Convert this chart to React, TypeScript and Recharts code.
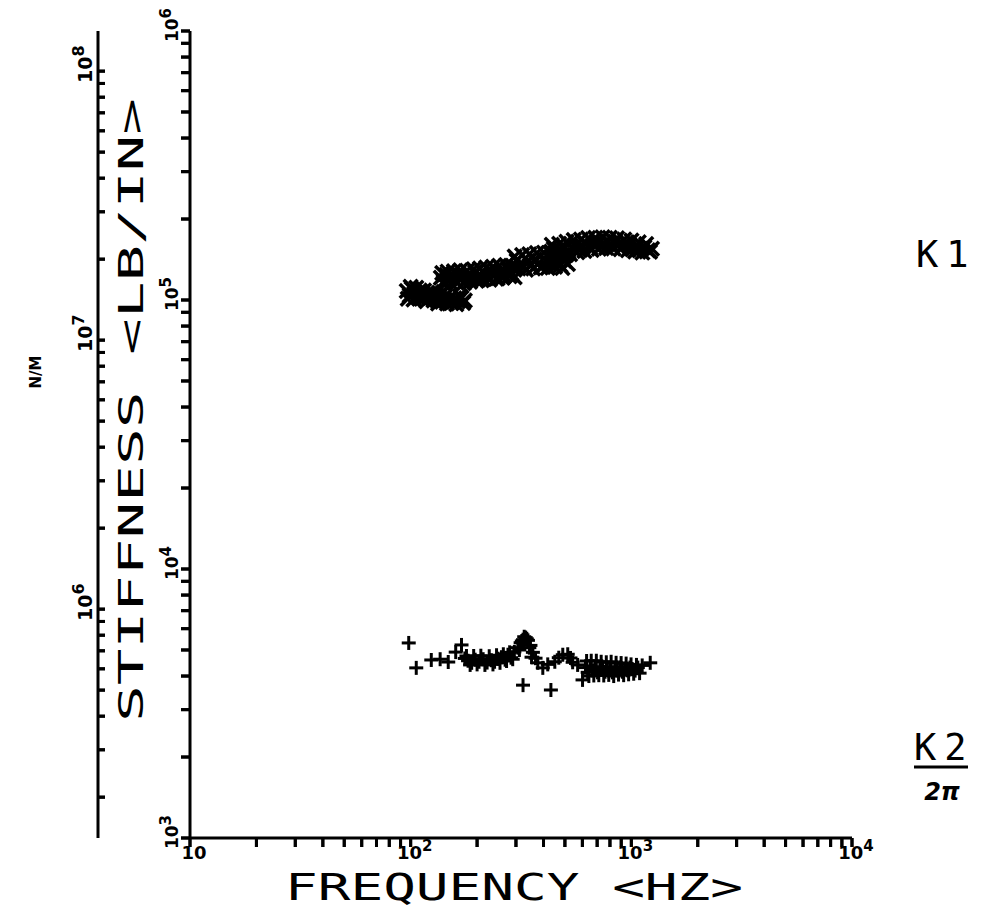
import React from 'react';
import { ScatterChart, Scatter, XAxis, YAxis } from 'recharts';

// ---- K1 : stiffness (lb/in) vs frequency (Hz)
const K1_FREQ = [
  96, 99, 101, 104, 107, 110, 113, 116, 119, 123, 127, 131, 135, 139, 143, 148, 153, 158, 164, 170, 176,
  97, 100, 103, 106, 109, 112, 115, 118, 121, 125, 129, 133, 137, 141, 146, 151, 156, 161, 167, 173,
  137, 141, 145, 150, 155, 160, 165, 171, 177, 183, 189, 196, 203, 210, 217, 224, 232, 240, 248, 257, 266, 276, 286, 296,
  139, 143, 147, 152, 157, 162, 168, 174, 180, 186, 193, 199, 206, 213, 220, 228, 236, 244, 252, 261, 271, 281, 291,
  290, 302, 314, 326, 339, 352, 366, 380, 395, 410, 426, 443, 460, 478, 497, 516,
  296, 308, 320, 333, 345, 359, 373, 388, 402, 418, 434, 451, 469, 487, 506,
  428, 445, 462, 480, 499, 518, 538, 559, 580, 602, 625, 649, 674, 700, 727, 755, 784, 814, 845, 878, 912, 947, 983, 1020, 1060, 1100, 1145, 1190, 1240,
  436, 453, 471, 489, 508, 528, 548, 569, 591, 613, 637, 661, 687, 713, 741, 769, 799, 829, 861, 895, 929, 965, 1001, 1040, 1080, 1122, 1167, 1215,
];
const K1_STIFF = [
  108000, 104000, 110000, 106000, 103500, 108500, 105000, 101500, 106500, 103000, 99500, 104000, 101000, 98500, 103000, 100000, 97500, 101500, 99000, 102000, 99500,
  101000, 112000, 100500, 111000, 102000, 101000, 108500, 99000, 104500, 107000, 101500, 97000, 104500, 101500, 97000, 102500, 99000, 96500, 103500, 97500,
  121000, 117000, 124000, 119500, 122500, 118000, 125000, 121000, 117500, 124000, 120000, 126500, 122000, 118500, 125500, 121500, 128000, 124000, 120500, 127500, 123000, 130000, 125500, 121500,
  126000, 114500, 127500, 115500, 128000, 116000, 129000, 115500, 128500, 117000, 130000, 118000, 131000, 119500, 132000, 119000, 133000, 120000, 134000, 121000, 135000, 122500, 132000,
  134000, 140000, 136000, 132500, 139500, 135000, 141500, 137000, 133000, 140500, 136500, 142000, 138000, 134500, 140000, 136000,
  145000, 131000, 147000, 129500, 148000, 131000, 149500, 132000, 150000, 131500, 151000, 133000, 150500, 131500, 147000,
  150000, 155000, 148500, 153500, 157500, 151500, 156000, 160000, 154000, 158500, 162000, 156500, 160500, 164000, 158000, 162500, 165500, 160000, 164500, 161000, 158500, 163000, 159500, 155500, 158500, 154500, 157000, 153000, 155000,
  160500, 145000, 162000, 147000, 164500, 148000, 167000, 150500, 168000, 152000, 170000, 153500, 170500, 155000, 171000, 156000, 170500, 155500, 169500, 154500, 168000, 153000, 166500, 151500, 164000, 150000, 161500, 151000,
];

// ---- K2 / 2π : stiffness (lb/in) vs frequency (Hz)
const K2_FREQ = [
  98, 106, 124, 136, 148, 160, 170, 176, 182, 189, 196, 204, 213, 222, 232, 240, 249, 258, 268, 276, 285, 295,
  179, 186, 193, 200, 208, 217, 227, 236, 245, 254, 263, 272, 281, 290,
  306, 315, 323, 332, 340, 349, 358, 368, 311, 319, 327, 336, 345, 353,
  323, 377, 397, 418, 432, 450, 469, 489, 515, 530, 542, 571, 601,
  620, 634, 650, 667, 685, 703, 720, 740, 760, 779, 800, 821, 842, 864, 887, 911, 935, 959, 985, 1010, 1040, 1070, 1120, 1218,
  627, 642, 658, 676, 694, 712, 730, 750, 770, 790, 810, 832, 853, 875, 899, 923, 947, 972, 997, 1025, 1055, 1090,
];
const K2_STIFF = [
  5310, 4290, 4590, 4620, 4510, 4910, 5220, 4650, 4560, 4480, 4600, 4520, 4620, 4490, 4580, 4520, 4640, 4700, 4600, 4800, 4680, 4920,
  4750, 4400, 4750, 4420, 4760, 4400, 4740, 4420, 4780, 4480, 4820, 4550, 4900, 4620,
  5100, 5320, 5460, 5560, 5430, 5200, 4900, 4660, 5000, 5400, 5600, 5500, 5100, 4700,
  3700, 4480, 4290, 4420, 3550, 4520, 4680, 4800, 4820, 4670, 4500, 4400, 3870,
  4300, 4130, 4360, 4200, 4300, 4130, 4260, 4310, 4150, 4220, 4300, 4130, 4260, 4200, 4310, 4150, 4260, 4200, 4300, 4240, 4190, 4300, 4380, 4480,
  4550, 4000, 4560, 4020, 4560, 4030, 4520, 4020, 4500, 4040, 4520, 4000, 4480, 4050, 4470, 4030, 4450, 4060, 4420, 4080, 4400, 4100,
];

// ---- axis ticks
const X_TICKS = [
  10, 20, 30, 40, 50, 60, 70, 80, 90,
  100, 200, 300, 400, 500, 600, 700, 800, 900,
  1000, 2000, 3000, 4000, 5000, 6000, 7000, 8000, 9000, 10000,
];
const Y_TICKS_LBIN = [
  1000, 2000, 3000, 4000, 5000, 6000, 7000, 8000, 9000,
  10000, 20000, 30000, 40000, 50000, 60000, 70000, 80000, 90000,
  100000, 200000, 300000, 400000, 500000, 600000, 700000, 800000, 900000, 1000000,
];
const Y_TICKS_NM = [
  200000, 300000, 400000, 500000, 600000, 700000, 800000, 900000,
  1000000, 2000000, 3000000, 4000000, 5000000, 6000000, 7000000, 8000000, 9000000,
  10000000, 20000000, 30000000, 40000000, 50000000, 60000000, 70000000, 80000000, 90000000, 100000000,
];
const X_DOMAIN = [10, 10000];
const LBIN_DOMAIN = [1000, 1000000];
const NM_DOMAIN = [141000, 141000000];

const k1Data = K1_FREQ.map((f, i) => ({ f, v: K1_STIFF[i] }));
const k2Data = K2_FREQ.map((f, i) => ({ f, v: K2_STIFF[i] }));

const TICK_FONT = "'DejaVu Sans', sans-serif";
const MONO = "'DejaVu Sans Mono', monospace";
const T = 9; // tick length

function isDecade(v: number) {
  const l = Math.log10(v);
  return Math.abs(l - Math.round(l)) < 1e-6;
}

// label position handed in = axis line + tickSize (tickMargin 0)
const XTick = (p: any) => {
  const { x, y, payload } = p;
  const v = payload.value;
  const major = isDecade(v);
  const e = Math.round(Math.log10(v));
  return (
    <g>
      <rect x={x - 1.5} y={y - T} width={3} height={T} fill="#000" />
      {major && (
        <text x={x + 4} y={y + 12} textAnchor="middle" fontFamily={TICK_FONT} fontWeight="bold" fontSize={18} fill="#000">
          10{e > 1 && <tspan dy={-8} fontSize={15}>{e}</tspan>}
        </text>
      )}
    </g>
  );
};

const InnerYTick = (p: any) => {
  const { x, y, payload } = p;
  const v = payload.value;
  const major = isDecade(v);
  const e = Math.round(Math.log10(v));
  return (
    <g>
      <rect x={x} y={y - 1.5} width={T} height={3} fill="#000" />
      {major && (
        <text transform={`translate(${x - 3},${y - 6}) rotate(-90)`} textAnchor="middle" fontFamily={TICK_FONT} fontWeight="bold" fontSize={17} fill="#000">
          10<tspan dy={-7} fontSize={15}>{e}</tspan>
        </text>
      )}
    </g>
  );
};

// outer axis: ticks point right (negative tickSize), handed-in x = axis + 7
const OuterYTick = (p: any) => {
  const { x, y, payload } = p;
  const v = payload.value;
  const major = isDecade(v);
  const e = Math.round(Math.log10(v));
  return (
    <g>
      <rect x={x - 7} y={y - 1.5} width={7} height={3} fill="#000" />
      {major && (
        <text transform={`translate(${x - 13},${y - 7}) rotate(-90)`} textAnchor="middle" fontFamily={TICK_FONT} fontWeight="bold" fontSize={19} fill="#000">
          10<tspan dy={-8} fontSize={16}>{e}</tspan>
        </text>
      )}
    </g>
  );
};

const XMark = (p: any) => {
  const { cx, cy } = p;
  const s = 7;
  return (
    <g stroke="#000" strokeWidth={3.5}>
      <line x1={cx - s} y1={cy - s} x2={cx + s} y2={cy + s} />
      <line x1={cx - s} y1={cy + s} x2={cx + s} y2={cy - s} />
    </g>
  );
};

const PlusMark = (p: any) => {
  const { cx, cy } = p;
  const s = 7;
  return (
    <g stroke="#000" strokeWidth={3}>
      <line x1={cx - s} y1={cy} x2={cx + s} y2={cy} />
      <line x1={cx} y1={cy - s} x2={cx} y2={cy + s} />
    </g>
  );
};

const TICK_LINE = { stroke: '#000', strokeWidth: 3 };

export default function App() {
  return (
    <div style={{ width: 968, height: 905, background: '#fff' }}>
      <ScatterChart width={968} height={905} margin={{ top: 23, right: 124, bottom: 35, left: 20 }}>
        <XAxis
          dataKey="f"
          type="number"
          scale="log"
          domain={X_DOMAIN}
          allowDataOverflow
          ticks={X_TICKS}
          interval={0}
          tick={<XTick />}
          stroke="#000"
          strokeWidth={3}
          tickLine={TICK_LINE}
          tickSize={T}
          tickMargin={0}
          height={40}
        />
        <YAxis
          yAxisId="lb"
          dataKey="v"
          type="number"
          scale="log"
          domain={LBIN_DOMAIN}
          allowDataOverflow
          ticks={Y_TICKS_LBIN}
          interval={0}
          tick={<InnerYTick />}
          stroke="#000"
          strokeWidth={3}
          tickLine={TICK_LINE}
          tickSize={T}
          tickMargin={0}
          width={92}
        />
        <YAxis
          yAxisId="nm"
          type="number"
          scale="log"
          domain={NM_DOMAIN}
          allowDataOverflow
          ticks={Y_TICKS_NM}
          interval={0}
          tick={<OuterYTick />}
          stroke="#000"
          strokeWidth={3}
          tickLine={TICK_LINE}
          tickSize={-7}
          tickMargin={0}
          width={70}
        />
        <Scatter yAxisId="lb" data={k1Data} shape={<XMark />} isAnimationActive={false} />
        <Scatter yAxisId="lb" data={k2Data} shape={<PlusMark />} isAnimationActive={false} />
        <text
          transform="translate(135,714) rotate(-90)"
          fontFamily={MONO}
          fontSize={34}
          textLength={624}
          lengthAdjust="spacingAndGlyphs"
          fill="#000"
        >
          STIFFNESS &lt;LB/IN&gt;
        </text>
        <text x={277} y={892} fontFamily={MONO} fontSize={38} textLength={458} lengthAdjust="spacingAndGlyphs" fill="#000">
          FREQUENCY &lt;HZ&gt;
        </text>
        <text transform="translate(33,364) rotate(-90)" textAnchor="middle" fontFamily={TICK_FONT} fontWeight="bold" fontSize={15} fill="#000">
          N/M
        </text>
        <text x={908} y={259} fontFamily={MONO} fontSize={37} letterSpacing={8} fill="#000">K1</text>
        <text x={906} y={752} fontFamily={MONO} fontSize={37} letterSpacing={8} fill="#000">K2</text>
        <line x1={906} x2={960} y1={759} y2={759} stroke="#000" strokeWidth={3} />
        <text x={934} y={792} textAnchor="middle" fontFamily={TICK_FONT} fontWeight="bold" fontStyle="italic" fontSize={24} fill="#000">2π</text>
      </ScatterChart>
    </div>
  );
}
